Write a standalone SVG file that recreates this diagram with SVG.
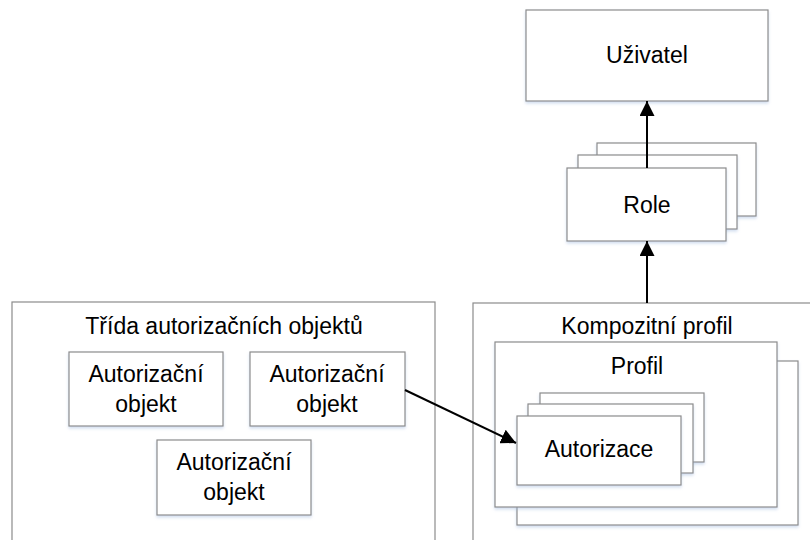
<svg xmlns="http://www.w3.org/2000/svg" width="810" height="540" viewBox="0 0 810 540">
  <defs>
    <filter id="shadow" x="-10%" y="-10%" width="120%" height="130%">
      <feDropShadow dx="0" dy="2" stdDeviation="1.5" flood-color="#9db8dc" flood-opacity="0.45"/>
    </filter>
    <marker id="arrow" viewBox="0 0 10 10" refX="10" refY="5" markerWidth="7.5" markerHeight="7.5" markerUnits="strokeWidth" orient="auto">
      <path d="M0,0 L10,5 L0,10 Z" fill="#000"/>
    </marker>
  </defs>
  <style>
    .box { fill: #ffffff; stroke: #8c8c8c; stroke-width: 1.2; filter: url(#shadow); }
    .frame { fill: #ffffff; stroke: #8c8c8c; stroke-width: 1.2; }
    .label { font-family: "Liberation Sans", Arial, sans-serif; font-size: 23px; fill: #000; text-anchor: middle; }
    .conn { stroke: #000; stroke-width: 2; fill: none; marker-end: url(#arrow); }
  </style>
  <rect width="810" height="540" fill="#ffffff"/>

  <!-- User -->
  <g id="uzivatel">
    <rect class="box" x="526" y="10" width="242" height="91"/>
    <text class="label" x="647" y="63">Uživatel</text>
  </g>

  <!-- Role stack -->
  <g id="role">
    <rect class="box" x="597" y="143" width="159" height="73"/>
    <rect class="box" x="578" y="155" width="159" height="74"/>
    <rect class="box" x="567" y="168" width="159" height="73"/>
    <text class="label" x="647" y="213">Role</text>
  </g>

  <!-- Authorization object class -->
  <g id="trida">
    <rect class="frame" x="12" y="302" width="423" height="260"/>
    <text class="label" x="224" y="334">Třída autorizačních objektů</text>
  </g>
  <g id="objekt1">
    <rect class="box" x="69" y="352" width="154" height="74"/>
    <text class="label" x="146" y="382">Autorizační</text>
    <text class="label" x="146" y="412">objekt</text>
  </g>
  <g id="objekt2">
    <rect class="box" x="250" y="352" width="155" height="74"/>
    <text class="label" x="327" y="382">Autorizační</text>
    <text class="label" x="327" y="412">objekt</text>
  </g>
  <g id="objekt3">
    <rect class="box" x="157" y="440" width="154" height="75"/>
    <text class="label" x="234" y="470">Autorizační</text>
    <text class="label" x="234" y="500">objekt</text>
  </g>

  <!-- Composite profile -->
  <g id="kompozitni">
    <rect class="frame" x="473" y="303" width="360" height="260"/>
    <text class="label" x="647" y="334">Kompozitní profil</text>
  </g>
  <g id="profil">
    <rect class="box" x="517" y="361" width="281" height="164"/>
    <rect class="box" x="495" y="342" width="282" height="165"/>
    <text class="label" x="637" y="374">Profil</text>
  </g>
  <g id="autorizace">
    <rect class="box" x="540" y="393" width="164" height="69"/>
    <rect class="box" x="528" y="404" width="165" height="69"/>
    <rect class="box" x="517" y="416" width="164" height="69"/>
    <text class="label" x="599" y="457">Autorizace</text>
  </g>

  <!-- Connectors -->
  <g id="connectors">
    <line class="conn" x1="647" y1="168" x2="647" y2="101"/>
    <line class="conn" x1="647" y1="303" x2="647" y2="241"/>
    <line class="conn" x1="405" y1="390" x2="516" y2="443"/>
  </g>
</svg>
